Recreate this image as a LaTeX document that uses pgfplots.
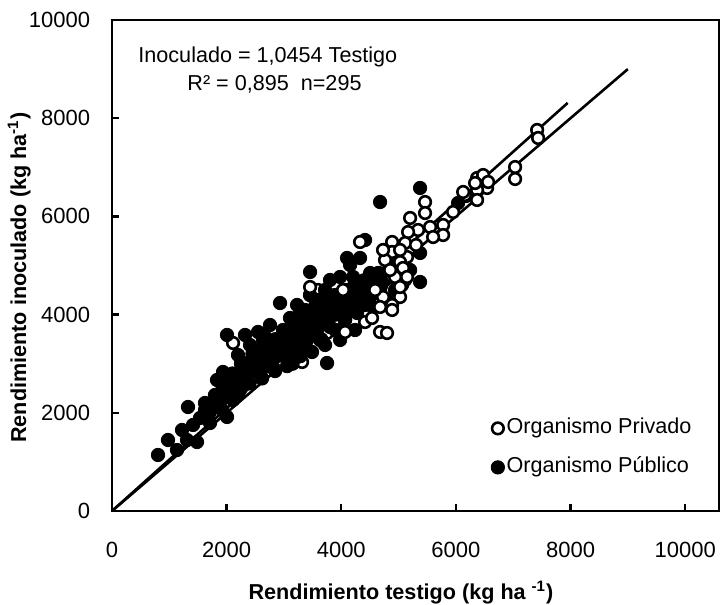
\documentclass[border=0pt]{standalone}
\usepackage{fontspec}
\setmainfont{Liberation Sans}
\usepackage{pgfplots}
\pgfplotsset{compat=1.18}
\begin{document}
\begin{tikzpicture}
\useasboundingbox (-56pt,-47pt) rectangle (304pt,255.5pt);
\begin{axis}[
  at={(0,0)}, anchor=south west,
  scale only axis, width=303.5pt, height=245.5pt,
  xmin=0, xmax=10590, ymin=0, ymax=10000,
  xtick={0,2000,4000,6000,8000,10000},
  ytick={0,2000,4000,6000,8000,10000},
  tick align=inside, xtick pos=bottom, ytick pos=left,
  major tick length=3.5pt,
  axis line style={line width=1.2pt},
  every tick/.style={line width=1.2pt, black},
  scaled ticks=false,
  /pgf/number format/assume math mode=true,
  /pgf/number format/set thousands separator={},
  tick label style={font=\fontsize{11}{13}\selectfont},
  xticklabel style={yshift=-12pt},
  yticklabel style={xshift=-7.4pt},
  xlabel={\bfseries Rendimiento testigo (kg ha \textsuperscript{-1})},
  ylabel={\bfseries Rendimiento inoculado (kg ha\textsuperscript{-1})},
  label style={font=\fontsize{10.8}{13}\selectfont},
  xlabel style={at={(axis description cs:0.476,-0.167)}, anchor=center},
  ylabel style={at={(axis description cs:-0.153,0.475)}, anchor=center, rotate=0},
  legend style={draw=none, fill=none, at={(rel axis cs:0.624,0.1945)}, anchor=north west,
    inner sep=0pt, row sep=7pt, font=\fontsize{10.8}{13}\selectfont,
    nodes={text height=8pt, text depth=2.5pt, inner sep=1pt}},
  legend cell align=left,
  legend image code/.code={\draw[#1] plot coordinates {(0.12cm,0cm)};},
  /tikz/every even column/.append style={column sep=0pt},
  clip=false,
]
% Organismo Privado hidden under the dense cluster
\addplot[only marks, mark=*, mark size=2.9pt, line width=1.3pt, black, fill=white, forget plot] coordinates {
(3456,4399)(3316,3035)(3682,4155)(3281,4094)(3106,3686)(3752,3625)(3979,3686)(4066,3890)(4188,4094)(3944,4297)
(2112,3422)(3595,4501)(4328,4297)(4415,3849)
};
\addplot[only marks, mark=*, mark size=3.35pt, black, forget plot] coordinates {
(803,1141)(977,1446)(1134,1242)(1309,1446)(1483,1405)(1326,2118)(1623,2200)(1536,1894)(1710,1792)(2007,1915)
(1832,2668)(1937,2831)(2112,2261)(2234,2464)(1885,2403)(2007,3585)(2321,3585)(2356,3014)(2531,3279)(2635,3483)
(2932,3483)(2810,2933)(3054,2950)(3106,3075)(3281,3279)(3403,3483)(3578,3686)(3333,3890)(3508,4033)(3752,3014)
(2932,4236)(3229,4196)(3456,4868)(3857,4094)(4031,4236)(4101,5153)(4328,5153)(3804,4705)(3979,4766)(4206,4766)
(4503,4847)(4625,4705)(4503,4358)(4328,4501)(4154,4236)(3927,4094)(3752,4358)(3682,3951)(4276,4033)(4555,4155)
(3804,3748)(4415,5519)(4677,6293)(5375,6579)(5375,5255)(5375,4664)(6038,6273)(6178,6416)(2408,2872)(2670,3177)
(2845,3279)(3019,3381)(3194,3585)(3141,3849)(3543,3788)(3630,3483)(3892,3686)(4066,3890)(4241,4297)(4415,4501)
(4677,4501)(4764,4705)(4904,4949)(5026,4868)(4817,4297)(4415,4196)(4066,4501)(3717,4501)(3595,4297)(3368,4094)
(3106,3931)(2757,3788)(2548,3646)(2670,3381)(2496,3075)(2269,2831)(2147,2668)(1797,2363)(1623,2057)(1414,1752)
(1222,1650)(3281,3150)(3490,3238)(3717,3381)(3979,3483)(4241,3686)(3456,4399)(2984,3686)(2408,3381)(2199,3177)
(4939,4501)(5113,4705)(5201,4908)(4154,5010)(3892,4399)(2845,2850)(2618,2700)(1920,2057)
(1700,2000)(1800,2150)(1900,2250)(2000,2400)(2100,2550)(2200,2400)(2300,2650)(2400,2600)(2500,2850)(2550,3000)
(2600,2900)(2700,3050)(2750,3250)(2800,3100)(2900,3200)(2950,3350)(3000,3150)(3050,3450)(3150,3300)(3200,3450)
(3250,3650)(3300,3550)(3350,3700)(3400,3600)(3450,3800)(3500,3650)(3550,3900)(3600,3800)(3650,4000)(3700,3850)
(3750,4100)(3800,3950)(3850,4200)(3900,4000)(3950,4300)(4000,4100)(4050,4350)(4100,4150)(4150,4400)(4200,4550)
(4250,4350)(4300,4600)(4350,4400)(4400,4700)(4450,4350)(4500,4600)(4550,4750)(4600,4450)(4650,4850)(4700,4600)
(2250,3000)(2450,3200)(2650,3600)(2850,3500)(3100,3600)(3300,4000)(3550,4200)(3150,3000)(3400,3300)(3650,3500)
(2100,2800)(1950,2600)
};
\addplot[only marks, mark=*, mark size=2.9pt, line width=1.3pt, black, fill=white, forget plot] coordinates {
(7417,7760)(7434,7597)(7033,7006)(7033,6762)(6370,6782)(6475,6843)(6544,6579)(6562,6701)(6370,6538)(6370,6334)
(6160,6436)(5951,6090)(5777,5825)(5777,5621)(6335,6680)(6126,6497)(5462,6293)(5462,6069)(5201,5968)(5340,5723)
(5166,5682)(4887,5479)(4887,5275)(5113,5458)(5148,5173)(4764,5112)(5026,5071)(5061,4603)(4887,4766)(5026,4358)
(4887,4196)(4677,3646)(4799,3625)(3456,4562)(4066,3646)(4031,4501)
(4729,4358)(4939,4766)(4677,4155)(4852,4908)(4729,5316)(5026,5316)(5078,4949)(5148,4766)(5026,4562)
(4887,4094)(4328,5479)(5305,5418)(5550,5784)(5602,5580)(4537,3931)(4590,4501)
};
\addplot[black, line width=1.3pt, forget plot] coordinates {(0,0)(9000,9000)};
\addplot[black, line width=1.3pt, forget plot] coordinates {(0,0)(7950,8311)};
\addlegendimage{only marks, mark=*, mark size=2.9pt, line width=1.3pt, black, fill=white}
\addlegendentry{Organismo Privado}
\addlegendimage{only marks, mark=*, mark size=3.35pt, black}
\addlegendentry{Organismo Público}
\node[anchor=west, font=\fontsize{10.8}{13}\selectfont, inner sep=0pt] at (axis cs:454,9247) {Inoculado = 1,0454 Testigo};
\node[anchor=west, font=\fontsize{10.8}{13}\selectfont, inner sep=0pt] at (axis cs:1309,8697) {R² = 0,895\ \ n=295};
\end{axis}
\end{tikzpicture}
\end{document}
